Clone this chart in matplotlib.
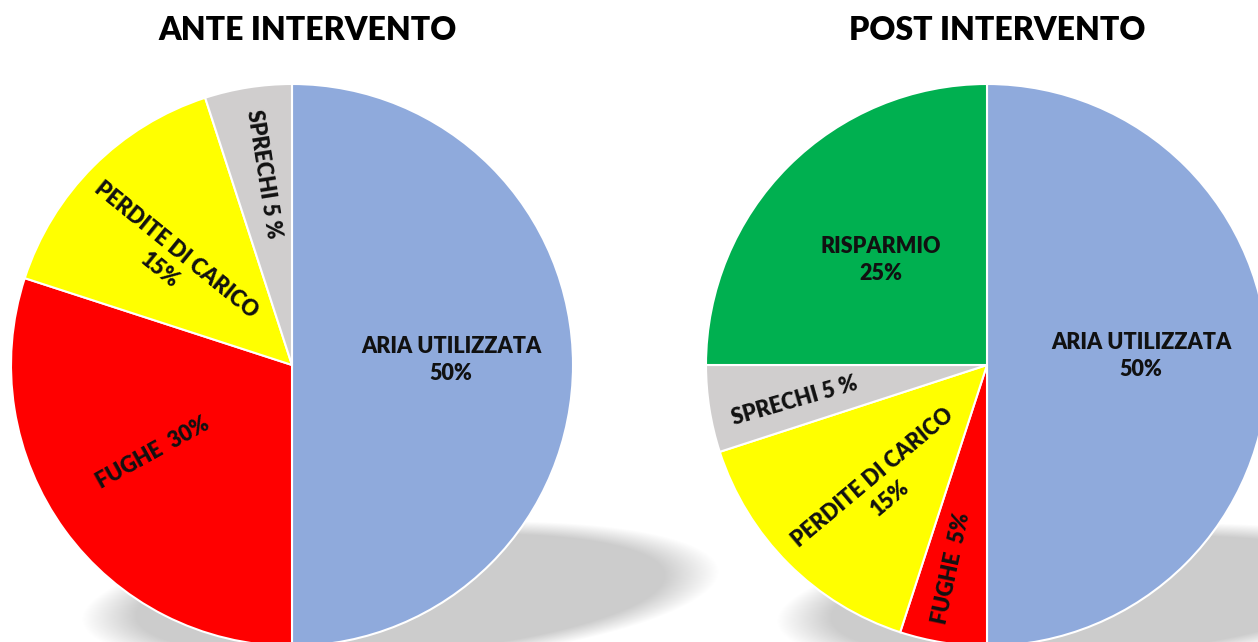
import numpy as np
import matplotlib
matplotlib.use('Agg')
import matplotlib.pyplot as plt

plt.rcParams['font.family'] = ['Lato', 'DejaVu Sans']

ante_labels = ['ARIA UTILIZZATA', 'FUGHE', 'PERDITE DI CARICO', 'SPRECHI']
ante_values = [50, 30, 15, 5]
ante_text = ['{}\n{}%', '{}  {}%', '{}\n{}%', '{} {} %']

post_labels = ['ARIA UTILIZZATA', 'FUGHE', 'PERDITE DI CARICO', 'SPRECHI', 'RISPARMIO']
post_values = [50, 5, 15, 5, 25]
post_text = ['{}\n{}%', '{}  {}%', '{}\n{}%', '{} {} %', '{}\n{}%']

colors = {'ARIA UTILIZZATA': '#8FAADC', 'FUGHE': '#FF0000',
          'PERDITE DI CARICO': '#FFFF00', 'SPRECHI': '#D0CECE',
          'RISPARMIO': '#00B050'}

W, H = 1258, 642
fig = plt.figure(figsize=(W / 100, H / 100), dpi=100)
ax = fig.add_axes([0, 0, 1, 1])


def shadow(cx, cy, a, b, ang, soft=12):
    # soft grey ellipse under the pie
    xs = np.arange(0, W)
    ys = np.arange(0, H)
    X, Y = np.meshgrid(xs, ys)
    t = np.deg2rad(ang)
    u = (X - cx) * np.cos(t) + (Y - cy) * np.sin(t)
    v = -(X - cx) * np.sin(t) + (Y - cy) * np.cos(t)
    d = np.sqrt((u / a) ** 2 + (v / b) ** 2)
    alpha = np.clip((1 - d) * min(a, b) / soft + 0.5, 0, 1)
    img = np.zeros((H, W, 4))
    img[..., :3] = 0.8
    img[..., 3] = alpha
    ax.imshow(img, extent=(0, W, 0, H), origin='lower', zorder=0, interpolation='bilinear')


shadow(400, H - 596, 292, 64, 4.5)
shadow(1095, H - 598, 292, 64, 4.5)

R = 281
pies = [
    ((292, H - 365), ante_labels, ante_values, ante_text,
     [(159, 5, 0), (-139, -88, 29), (-124, 105, -39), (-28, 191, -81)]),
    ((987, H - 365), post_labels, post_values, post_text,
     [(154, 9, 0), (-36, -203, 78), (-106, -123, 40), (-192, -36, 16), (-106, 105, 0)]),
]

for center, labels, values, fmts, place in pies:
    ax.pie(values, colors=[colors[l] for l in labels], startangle=90, counterclock=False,
           center=center, radius=R, wedgeprops=dict(edgecolor='white', linewidth=1.5, zorder=2))
    for lab, val, fmt, (dx, dy, rot) in zip(labels, values, fmts, place):
        ax.text(center[0] + dx, center[1] + dy, fmt.format(lab, val), ha='center', va='center',
                rotation=rot, rotation_mode='anchor', multialignment='center',
                fontsize=15.5, fontweight='heavy', color='#111111', linespacing=1.35, zorder=3)

ax.text(308, H - 30, 'ANTE INTERVENTO', ha='center', va='center', fontsize=23, fontweight='heavy')
ax.text(997, H - 30, 'POST INTERVENTO', ha='center', va='center', fontsize=23, fontweight='heavy')

ax.set_xlim(0, W)
ax.set_ylim(0, H)
ax.set_aspect('equal')
ax.axis('off')
fig.savefig('out.png', dpi=100)
